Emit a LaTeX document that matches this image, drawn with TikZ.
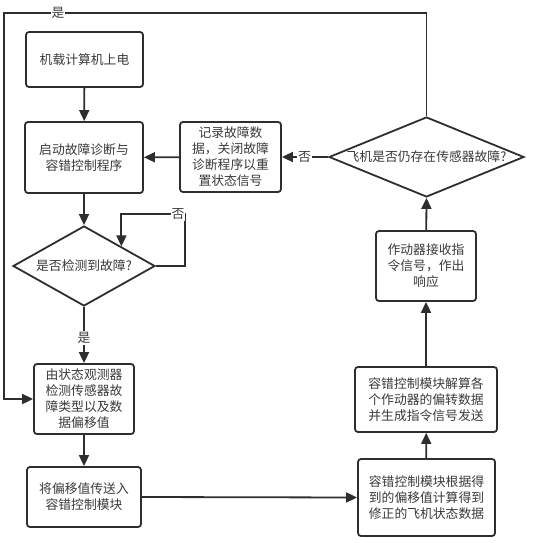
\documentclass[tikz,border=0pt]{standalone}
\usepackage{fontspec}
\newfontfamily\cjk{Noto Sans CJK SC}
\usetikzlibrary{arrows.meta,shapes.geometric,calc}
\definecolor{ln}{HTML}{2E2E2E}
\definecolor{tx}{HTML}{3A3A3A}
\begin{document}
\begin{tikzpicture}[x=1pt,y=-1pt,
  txtfont/.style={font=\cjk\fontsize{12.8}{16}\selectfont, text=tx},
  box/.style={draw=ln, line width=1.8pt, rounded corners=3pt, fill=white, align=center, inner sep=0pt, txtfont},
  dia/.style={diamond, draw=ln, line width=1.8pt, fill=white, inner sep=0pt, txtfont},
  arr/.style={draw=ln, line width=1.8pt, -{Triangle[length=11pt,width=10pt]}},
  lab/.style={fill=white, inner sep=1pt, txtfont}]
\useasboundingbox (0,0) rectangle (534,543);
\node[box, minimum width=117pt, minimum height=55pt] (b1) at (84.5,59.5) {机载计算机上电};
\node[box, minimum width=118pt, minimum height=71pt] (b2) at (84,157.5) {启动故障诊断与\\容错控制程序};
\node[box, minimum width=101pt, minimum height=70pt] (b3) at (230.5,157) {记录故障数\\据，关闭故障\\诊断程序以重\\置状态信号};
\node[dia, minimum width=142pt, minimum height=80pt] (d1) at (84,266) {\makebox[0pt]{是否检测到故障?}};
\node[dia, minimum width=195pt, minimum height=80pt] (d2) at (426.5,157) {\makebox[0pt]{飞机是否仍存在传感器故障?}};
\node[box, minimum width=100pt, minimum height=70pt] (b6) at (426,266) {作动器接收指\\令信号，作出\\响应};
\node[box, minimum width=100pt, minimum height=70pt] (b7) at (84,399) {由状态观测器\\检测传感器故\\障类型以及数\\据偏移值};
\node[box, minimum width=114pt, minimum height=60pt] (b8) at (84,497) {将偏移值传送入\\容错控制模块};
\node[box, minimum width=142pt, minimum height=65pt] (b9) at (426,399.5) {容错控制模块解算各\\个作动器的偏转数据\\并生成指令信号发送};
\node[box, minimum width=137pt, minimum height=77pt] (b10) at (426.5,497.5) {容错控制模块根据得\\到的偏移值计算得到\\修正的飞机状态数据};

\coordinate (d1in) at ($(d1.north)!0.52!(d1.east)$);
\coordinate (tl) at (4,13);

\draw[arr] (b1) -- (b2);
\draw[arr] (b2) -- (d1);
\draw[arr] (d1.south) -- (b7.north);
\draw[arr] (d1.east) -| (185,214) -| (d1in);
\draw[arr] (b7) -- (b8);
\draw[arr] (b8.east) -- (b10.west);
\draw[arr] (b10) -- (b9);
\draw[arr] (b9) -- (b6);
\draw[arr] (b6) -- (d2.south);
\draw[arr] (d2.west) -- (b3.east);
\draw[arr] (b3) -- (b2);
\draw[arr] (d2.north) |- (tl) |- (b7.west);

\node[lab] (l1) at (178,214) {否};
\node[lab] (l2) at (84,338) {是};
\node[lab] (l3) at (304.5,157) {否};
\node[lab] (l4) at (58,13) {是};
\end{tikzpicture}
\end{document}
